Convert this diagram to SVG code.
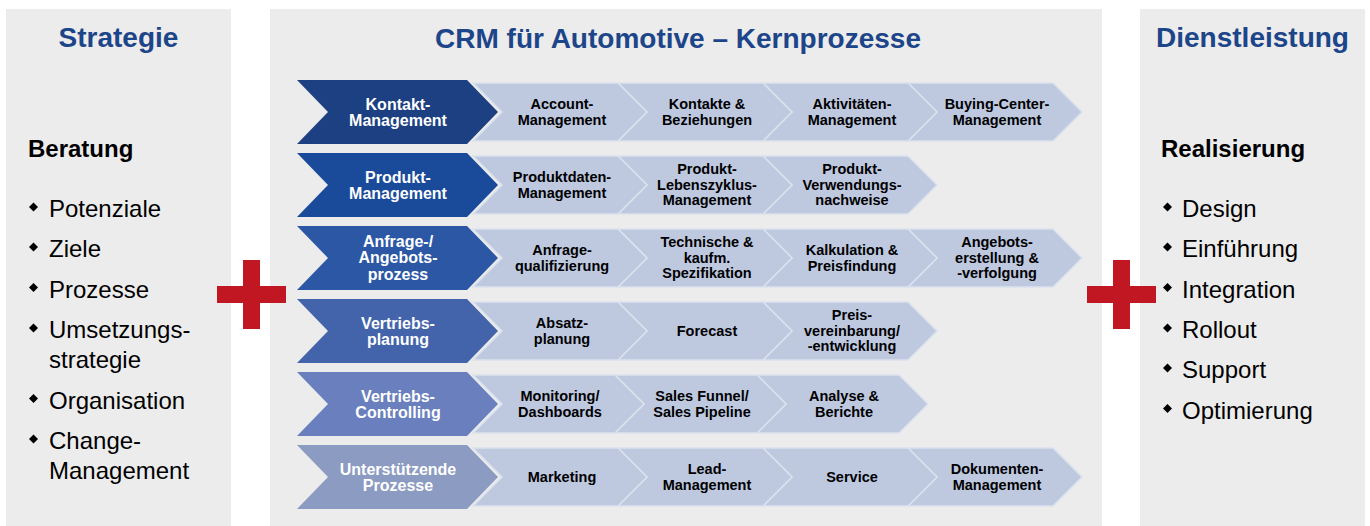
<svg xmlns="http://www.w3.org/2000/svg" xmlns:xlink="http://www.w3.org/1999/xlink" width="1370" height="526" viewBox="0 0 1370 526">
  <style>
    text { font-family: "Liberation Sans", Arial, sans-serif; }
    .panel { fill: #ececec; }
    .title { font-size: 28px; font-weight: bold; fill: #1d4589; text-anchor: middle; }
    .head { font-size: 24px; font-weight: bold; fill: #000; }
    .item { font-size: 24px; fill: #000; }
    .bullet { fill: #000; }
    .plus { fill: #c01722; }
    .main-txt { font-size: 16px; font-weight: bold; fill: #fff; text-anchor: middle; }
    .sub-txt { font-size: 14.5px; font-weight: bold; fill: #000; text-anchor: middle; }
    .sub { fill: #bec9e0; stroke: #dbe1ed; stroke-width: 1.5; }
  </style>
  <defs>
    <!-- main process chevron, 201 x 64 -->
    <path id="chev-main" d="M0,0 H170 L201,32 L170,64 H0 L31,32 Z"/>
    <!-- sub process chevron, 174 x 58 -->
    <path id="chev-sub" d="M0,0 H145 L174,29 L145,58 H0 L29,29 Z"/>
    <!-- narrower sub chevron used in the controlling row -->
    <path id="chev-sub-n" d="M0,0 H142 L171,29 L142,58 H0 L29,29 Z"/>
    <symbol id="diamond" overflow="visible">
      <polygon points="0,-4.5 4.5,0 0,4.5 -4.5,0"/>
    </symbol>
  </defs>

  <!-- background panels -->
  <rect class="panel" x="6" y="9" width="225" height="517"/>
  <rect class="panel" x="270" y="9" width="832" height="517"/>
  <rect class="panel" x="1140" y="9" width="225" height="517"/>

  <!-- left column: strategy -->
  <g id="strategie">
    <text class="title" x="118.5" y="47">Strategie</text>
    <text class="head" x="28" y="157">Beratung</text>
    <g class="bullet">
      <use xlink:href="#diamond" x="33.5" y="207"/>
      <use xlink:href="#diamond" x="33.5" y="247"/>
      <use xlink:href="#diamond" x="33.5" y="287.5"/>
      <use xlink:href="#diamond" x="33.5" y="328"/>
      <use xlink:href="#diamond" x="33.5" y="398.5"/>
      <use xlink:href="#diamond" x="33.5" y="439"/>
    </g>
    <text class="item" x="49" y="217">Potenziale</text>
    <text class="item" x="49" y="257">Ziele</text>
    <text class="item" x="49" y="297.5">Prozesse</text>
    <text class="item" x="49" y="338">Umsetzungs-</text>
    <text class="item" x="49" y="368">strategie</text>
    <text class="item" x="49" y="408.5">Organisation</text>
    <text class="item" x="49" y="449">Change-</text>
    <text class="item" x="49" y="479">Management</text>
  </g>

  <!-- right column: services -->
  <g id="dienstleistung">
    <text class="title" x="1252.5" y="47">Dienstleistung</text>
    <text class="head" x="1161" y="157">Realisierung</text>
    <g class="bullet">
      <use xlink:href="#diamond" x="1167.5" y="207"/>
      <use xlink:href="#diamond" x="1167.5" y="247"/>
      <use xlink:href="#diamond" x="1167.5" y="287.5"/>
      <use xlink:href="#diamond" x="1167.5" y="328"/>
      <use xlink:href="#diamond" x="1167.5" y="368"/>
      <use xlink:href="#diamond" x="1167.5" y="408.5"/>
    </g>
    <text class="item" x="1182" y="217">Design</text>
    <text class="item" x="1182" y="257">Einführung</text>
    <text class="item" x="1182" y="297.5">Integration</text>
    <text class="item" x="1182" y="338">Rollout</text>
    <text class="item" x="1182" y="378">Support</text>
    <text class="item" x="1182" y="418.5">Optimierung</text>
  </g>

  <!-- plus signs between the columns -->
  <g id="plus-left" class="plus">
    <rect x="217" y="286" width="69" height="17"/>
    <rect x="243" y="260" width="17" height="69"/>
  </g>
  <g id="plus-right" class="plus">
    <rect x="1087" y="286" width="69" height="17"/>
    <rect x="1113" y="260" width="17" height="69"/>
  </g>

  <!-- centre: core processes -->
  <text class="title" x="678" y="48">CRM für Automotive – Kernprozesse</text>

  <!-- row 1: Kontakt-Management (centre y 112) -->
  <g id="row-kontakt">
    <use class="sub" xlink:href="#chev-sub" x="908" y="83"/>
    <use class="sub" xlink:href="#chev-sub" x="763" y="83"/>
    <use class="sub" xlink:href="#chev-sub" x="618" y="83"/>
    <use class="sub" xlink:href="#chev-sub" x="473" y="83"/>
    <use xlink:href="#chev-main" x="297" y="80" fill="#1c4081"/>
    <text class="main-txt" x="398"><tspan x="398" y="109.5">Kontakt-</tspan><tspan x="398" y="126">Management</tspan></text>
    <text class="sub-txt"><tspan x="562" y="109.3">Account-</tspan><tspan x="562" y="125">Management</tspan></text>
    <text class="sub-txt"><tspan x="707" y="109.3">Kontakte &amp;</tspan><tspan x="707" y="125">Beziehungen</tspan></text>
    <text class="sub-txt"><tspan x="852" y="109.3">Aktivitäten-</tspan><tspan x="852" y="125">Management</tspan></text>
    <text class="sub-txt"><tspan x="997" y="109.3">Buying-Center-</tspan><tspan x="997" y="125">Management</tspan></text>
  </g>

  <!-- row 2: Produkt-Management (centre y 185) -->
  <g id="row-produkt">
    <use class="sub" xlink:href="#chev-sub" x="763" y="156"/>
    <use class="sub" xlink:href="#chev-sub" x="618" y="156"/>
    <use class="sub" xlink:href="#chev-sub" x="473" y="156"/>
    <use xlink:href="#chev-main" x="297" y="153" fill="#1a4a9a"/>
    <text class="main-txt"><tspan x="398" y="182.5">Produkt-</tspan><tspan x="398" y="199">Management</tspan></text>
    <text class="sub-txt"><tspan x="562" y="182.3">Produktdaten-</tspan><tspan x="562" y="198">Management</tspan></text>
    <text class="sub-txt"><tspan x="707" y="174">Produkt-</tspan><tspan x="707" y="189.5">Lebenszyklus-</tspan><tspan x="707" y="205">Management</tspan></text>
    <text class="sub-txt"><tspan x="852" y="174">Produkt-</tspan><tspan x="852" y="189.5">Verwendungs-</tspan><tspan x="852" y="205">nachweise</tspan></text>
  </g>

  <!-- row 3: Anfrage-/Angebotsprozess (centre y 258) -->
  <g id="row-anfrage">
    <use class="sub" xlink:href="#chev-sub" x="908" y="229"/>
    <use class="sub" xlink:href="#chev-sub" x="763" y="229"/>
    <use class="sub" xlink:href="#chev-sub" x="618" y="229"/>
    <use class="sub" xlink:href="#chev-sub" x="473" y="229"/>
    <use xlink:href="#chev-main" x="297" y="226" fill="#2c57a5"/>
    <text class="main-txt"><tspan x="398" y="246.7">Anfrage-/</tspan><tspan x="398" y="263.2">Angebots-</tspan><tspan x="398" y="279.7">prozess</tspan></text>
    <text class="sub-txt"><tspan x="562" y="255.3">Anfrage-</tspan><tspan x="562" y="271">qualifizierung</tspan></text>
    <text class="sub-txt"><tspan x="707" y="247">Technische &amp;</tspan><tspan x="707" y="262.5">kaufm.</tspan><tspan x="707" y="278">Spezifikation</tspan></text>
    <text class="sub-txt"><tspan x="852" y="255.3">Kalkulation &amp;</tspan><tspan x="852" y="271">Preisfindung</tspan></text>
    <text class="sub-txt"><tspan x="997" y="247">Angebots-</tspan><tspan x="997" y="262.5">erstellung &amp;</tspan><tspan x="997" y="278">-verfolgung</tspan></text>
  </g>

  <!-- row 4: Vertriebsplanung (centre y 331) -->
  <g id="row-planung">
    <use class="sub" xlink:href="#chev-sub" x="763" y="302"/>
    <use class="sub" xlink:href="#chev-sub" x="618" y="302"/>
    <use class="sub" xlink:href="#chev-sub" x="473" y="302"/>
    <use xlink:href="#chev-main" x="297" y="299" fill="#4364ab"/>
    <text class="main-txt"><tspan x="398" y="328.5">Vertriebs-</tspan><tspan x="398" y="345">planung</tspan></text>
    <text class="sub-txt"><tspan x="562" y="328.3">Absatz-</tspan><tspan x="562" y="344">planung</tspan></text>
    <text class="sub-txt" x="707" y="336">Forecast</text>
    <text class="sub-txt"><tspan x="852" y="320">Preis-</tspan><tspan x="852" y="335.5">vereinbarung/</tspan><tspan x="852" y="351">-entwicklung</tspan></text>
  </g>

  <!-- row 5: Vertriebs-Controlling (centre y 404) -->
  <g id="row-controlling">
    <use class="sub" xlink:href="#chev-sub-n" x="757" y="375"/>
    <use class="sub" xlink:href="#chev-sub-n" x="615" y="375"/>
    <use class="sub" xlink:href="#chev-sub-n" x="473" y="375"/>
    <use xlink:href="#chev-main" x="297" y="372" fill="#6a80be"/>
    <text class="main-txt"><tspan x="398" y="401.5">Vertriebs-</tspan><tspan x="398" y="418">Controlling</tspan></text>
    <text class="sub-txt"><tspan x="560" y="401.3">Monitoring/</tspan><tspan x="560" y="417">Dashboards</tspan></text>
    <text class="sub-txt"><tspan x="702" y="401.3">Sales Funnel/</tspan><tspan x="702" y="417">Sales Pipeline</tspan></text>
    <text class="sub-txt"><tspan x="844" y="401.3">Analyse &amp;</tspan><tspan x="844" y="417">Berichte</tspan></text>
  </g>

  <!-- row 6: Unterstützende Prozesse (centre y 477) -->
  <g id="row-unterstuetzend">
    <use class="sub" xlink:href="#chev-sub" x="908" y="448"/>
    <use class="sub" xlink:href="#chev-sub" x="763" y="448"/>
    <use class="sub" xlink:href="#chev-sub" x="618" y="448"/>
    <use class="sub" xlink:href="#chev-sub" x="473" y="448"/>
    <use xlink:href="#chev-main" x="297" y="445" fill="#8c9bc1"/>
    <text class="main-txt"><tspan x="398" y="474.5">Unterstützende</tspan><tspan x="398" y="491">Prozesse</tspan></text>
    <text class="sub-txt" x="562" y="482">Marketing</text>
    <text class="sub-txt"><tspan x="707" y="474.3">Lead-</tspan><tspan x="707" y="490">Management</tspan></text>
    <text class="sub-txt" x="852" y="482">Service</text>
    <text class="sub-txt"><tspan x="997" y="474.3">Dokumenten-</tspan><tspan x="997" y="490">Management</tspan></text>
  </g>
</svg>
